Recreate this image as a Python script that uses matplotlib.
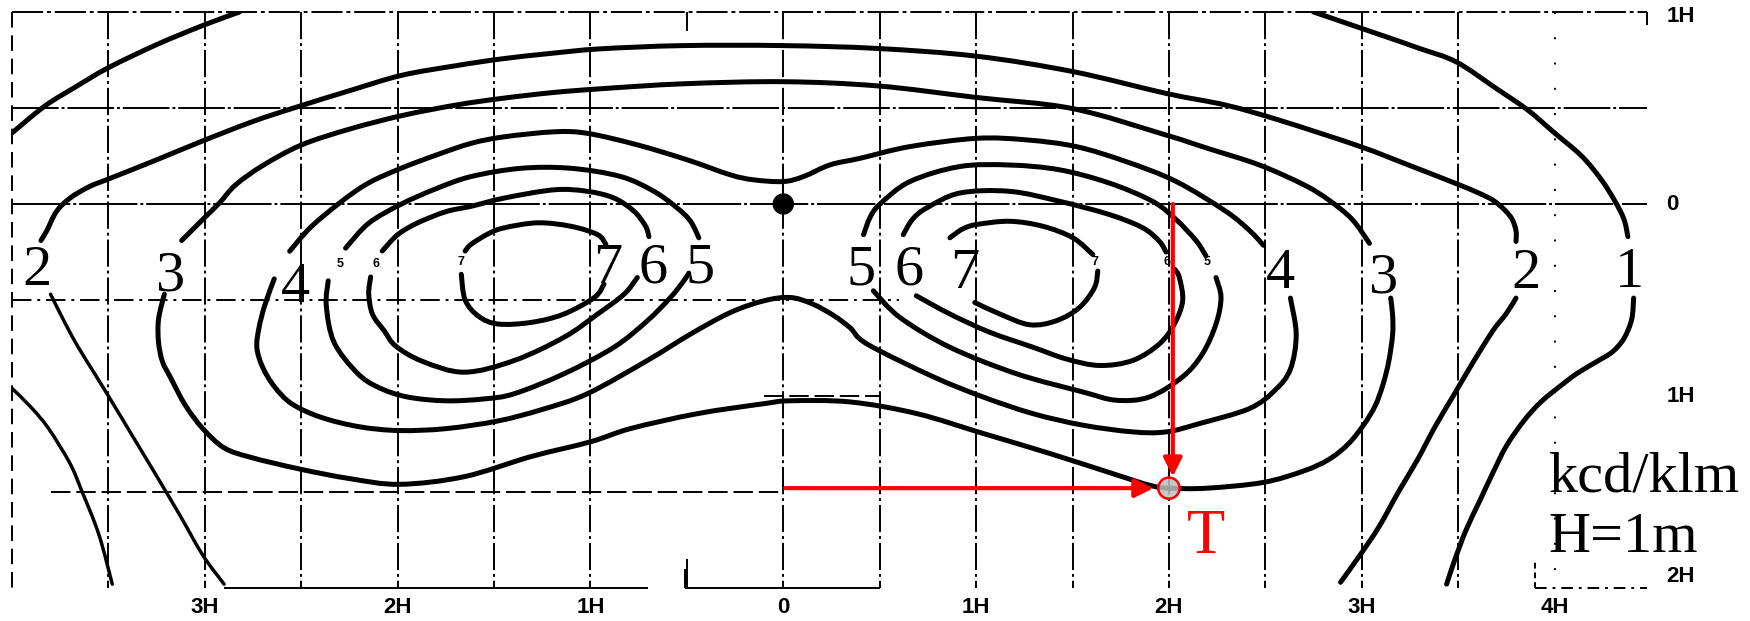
import matplotlib
matplotlib.use('Agg')
import matplotlib.pyplot as plt
from matplotlib.patches import Circle, PathPatch
from matplotlib.path import Path

# ---------------- data (H units: x along road, y across road, + behind lamp) ----------------
# contour 1 kcd/klm
C1_A = [(-4.0, 0.37), (-3.83, 0.51), (-3.67, 0.61), (-3.5, 0.71), (-3.25, 0.83), (-3.01, 0.93), (-2.82, 1.0)]
C1_B = [(-4.0, -0.96), (-3.9, -1.06), (-3.81, -1.17), (-3.70, -1.35), (-3.64, -1.49), (-3.55, -1.72), (-3.48, -1.98)]
C1_C = [(2.75, 1.0), (3.1, 0.88), (3.3, 0.81), (3.49, 0.74), (3.7, 0.60), (3.86, 0.49), (4.0, 0.37),
        (4.14, 0.25), (4.24, 0.13), (4.31, 0.02), (4.36, -0.08), (4.38, -0.17)]
C1_D = [(4.41, -0.49), (4.40, -0.60), (4.36, -0.70), (4.30, -0.77), (4.22, -0.82), (4.12, -0.88),
        (4.04, -0.94), (3.93, -1.03), (3.84, -1.13), (3.75, -1.26), (3.68, -1.40), (3.61, -1.55),
        (3.54, -1.70), (3.48, -1.86), (3.44, -1.98)]
# contour 2
C2_A = [(-3.85, -0.19), (-3.82, -0.14), (-3.77, -0.04), (-3.70, 0.03), (-3.6, 0.09), (-3.5, 0.13),
        (-3.25, 0.23), (-3.02, 0.325), (-2.75, 0.43), (-2.52, 0.506), (-2.25, 0.59), (-1.98, 0.67),
        (-1.7, 0.72), (-1.46, 0.756), (-1.2, 0.785), (-0.95, 0.808), (-0.52, 0.825), (0.0, 0.825),
        (0.49, 0.81), (1.0, 0.77), (1.5, 0.69), (1.99, 0.575), (2.295, 0.515), (2.571, 0.437),
        (2.99, 0.30), (3.25, 0.20), (3.48, 0.11), (3.60, 0.06), (3.68, 0.02), (3.74, -0.03),
        (3.78, -0.08), (3.80, -0.14), (3.80, -0.195)]
C2_B = [(-3.80, -0.47), (-3.73, -0.61), (-3.66, -0.74), (-3.58, -0.87), (-3.50, -1.0), (-3.38, -1.20),
        (-3.26, -1.40), (-3.13, -1.62), (-3.01, -1.83), (-2.90, -1.98)]
C2_C = [(3.80, -0.49), (3.75, -0.57), (3.68, -0.66), (3.58, -0.82), (3.48, -0.99), (3.38, -1.16),
        (3.29, -1.33), (3.19, -1.50), (3.09, -1.68), (2.99, -1.83), (2.89, -1.97)]
# contour 3
C3_A = [(-3.12, -0.19), (-3.0, -0.07), (-2.92, 0.01), (-2.84, 0.10), (-2.7, 0.20), (-2.50, 0.307),
        (-2.25, 0.39), (-1.98, 0.46), (-1.7, 0.515), (-1.46, 0.55), (-1.2, 0.58), (-0.95, 0.60),
        (-0.52, 0.626), (0.0, 0.637), (0.49, 0.615), (1.0, 0.555), (1.5, 0.497), (1.985, 0.359),
        (2.2, 0.29), (2.467, 0.204), (2.70, 0.10), (2.83, 0.02), (2.95, -0.08), (3.04, -0.205)]
C3_B = [(-3.21, -0.47), (-3.24, -0.60), (-3.24, -0.72), (-3.22, -0.82), (-3.18, -0.90), (-3.10, -1.05),
        (-3.01, -1.17), (-2.90, -1.27), (-2.76, -1.32), (-2.51, -1.38), (-2.25, -1.43), (-1.99, -1.46),
        (-1.654, -1.42), (-1.31, -1.316), (-0.998, -1.238), (-0.79, -1.169), (-0.446, -1.092),
        (-0.10, -1.04), (0.036, -1.025), (0.347, -1.031), (0.69, -1.091), (1.036, -1.195),
        (1.381, -1.299), (1.726, -1.41), (1.9, -1.465), (2.0, -1.48), (2.20, -1.48), (2.49, -1.45),
        (2.70, -1.39), (2.83, -1.33), (2.93, -1.25), (3.01, -1.15), (3.07, -1.05), (3.11, -0.94),
        (3.14, -0.82), (3.16, -0.68), (3.16, -0.58), (3.15, -0.49)]
# contour 4 (encloses both lobes)
C4_A = [(-2.56, -0.246), (-2.45, -0.12), (-2.29, 0.014), (-2.15, 0.11), (-1.98, 0.187), (-1.8, 0.255),
        (-1.619, 0.316), (-1.447, 0.35), (-1.188, 0.376), (-1.016, 0.368), (-0.757, 0.308),
        (-0.498, 0.23), (-0.275, 0.152), (-0.154, 0.126), (0.0, 0.117), (0.105, 0.143), (0.243, 0.204),
        (0.398, 0.238), (0.657, 0.299), (1.002, 0.342), (1.26, 0.334), (1.519, 0.299), (1.777, 0.221),
        (2.036, 0.118), (2.295, -0.038), (2.42, -0.14), (2.49, -0.215)]
C4_B = [(-2.64, -0.39), (-2.69, -0.53), (-2.72, -0.65), (-2.73, -0.75), (-2.70, -0.85), (-2.64, -0.95),
        (-2.55, -1.04), (-2.40, -1.11), (-2.2, -1.16), (-1.99, -1.18), (-1.75, -1.17), (-1.48, -1.13),
        (-1.25, -1.07), (-1.016, -0.988), (-0.705, -0.815), (-0.48, -0.677), (-0.274, -0.565),
        (-0.10, -0.504), (0.036, -0.487), (0.15, -0.52), (0.26, -0.58), (0.347, -0.645), (0.436, -0.73),
        (0.778, -0.90), (1.036, -1.005), (1.295, -1.092), (1.554, -1.152), (1.812, -1.187),
        (1.985, -1.187), (2.157, -1.144), (2.416, -1.066), (2.55, -0.97), (2.63, -0.86), (2.66, -0.68),
        (2.63, -0.49)]
# contour 5, left and right lobes
C5L_A = [(-2.27, -0.23), (-2.15, -0.10), (-1.98, 0.0), (-1.80, 0.08), (-1.619, 0.143), (-1.36, 0.186),
         (-1.102, 0.186), (-0.843, 0.143), (-0.671, 0.066), (-0.55, -0.021), (-0.481, -0.09), (-0.438, -0.176)]
C5L_B = [(-2.36, -0.40), (-2.37, -0.53), (-2.33, -0.72), (-2.21, -0.88), (-2.1, -0.955), (-1.95, -1.005),
         (-1.75, -1.025), (-1.55, -1.015), (-1.395, -0.988), (-1.137, -0.884), (-0.878, -0.746),
         (-0.705, -0.608), (-0.585, -0.487), (-0.516, -0.40), (-0.49, -0.36)]
C5R_A = [(0.416, -0.16), (0.45, -0.07), (0.502, 0.0), (0.657, 0.117), (0.915, 0.195), (1.174, 0.203),
         (1.433, 0.178), (1.691, 0.109), (1.915, 0.014), (2.036, -0.08), (2.14, -0.19), (2.192, -0.27)]
C5R_B = [(2.244, -0.383), (2.27, -0.487), (2.244, -0.625), (2.174, -0.78), (2.071, -0.90),
         (1.899, -1.005), (1.726, -1.022), (1.554, -0.979), (1.209, -0.884), (0.864, -0.746),
         (0.605, -0.591), (0.467, -0.452)]
# contour 6
C6L_A = [(-2.08, -0.245), (-2.0, -0.16), (-1.90, -0.10), (-1.75, -0.04), (-1.619, -0.012),
         (-1.447, 0.031), (-1.188, 0.074), (-1.016, 0.066), (-0.878, 0.031), (-0.774, -0.038),
         (-0.714, -0.116), (-0.697, -0.17)]
C6L_B = [(-2.14, -0.38), (-2.15, -0.47), (-2.13, -0.575), (-2.07, -0.66), (-2.01, -0.74), (-1.87, -0.82),
         (-1.654, -0.876), (-1.395, -0.815), (-1.137, -0.694), (-0.964, -0.574), (-0.826, -0.47),
         (-0.757, -0.383)]
C6R_A = [(0.622, -0.16), (0.67, -0.08), (0.743, -0.021), (0.915, 0.057), (1.174, 0.066), (1.433, 0.014),
         (1.691, -0.055), (1.864, -0.124), (1.95, -0.194), (1.985, -0.25)]
C6R_B = [(2.03, -0.34), (2.054, -0.383), (2.071, -0.504), (2.028, -0.625), (1.95, -0.729), (1.812, -0.815),
         (1.64, -0.841), (1.467, -0.807), (1.295, -0.746), (1.071, -0.668), (0.864, -0.573), (0.69, -0.478)]
# contour 7
C7L_A = [(-1.65, -0.245), (-1.619, -0.21), (-1.53, -0.155), (-1.447, -0.124), (-1.274, -0.098),
         (-1.102, -0.116), (-0.964, -0.159), (-0.92, -0.21)]
C7L_B = [(-1.67, -0.366), (-1.65, -0.50), (-1.58, -0.585), (-1.48, -0.625), (-1.31, -0.617),
         (-1.14, -0.574), (-0.98, -0.487), (-0.93, -0.418)]
C7R_A = [(0.864, -0.176), (0.93, -0.13), (1.002, -0.107), (1.174, -0.09), (1.346, -0.116),
         (1.502, -0.176), (1.605, -0.263)]
C7R_B = [(1.631, -0.349), (1.614, -0.435), (1.536, -0.539), (1.416, -0.608), (1.278, -0.629),
         (1.123, -0.573), (0.993, -0.513)]

THICK_PIECES = [C1_A, C1_C, C1_D, C2_A, C2_C, C3_A, C3_B, C4_A, C4_B,
                C5L_A, C5L_B, C5R_A, C5R_B, C6L_A, C6L_B, C6R_A, C6R_B,
                C7L_A, C7L_B, C7R_A, C7R_B]
THIN_PIECES = [C1_B, C2_B]

# big contour value labels
label_text = ['2', '3', '4', '7', '6', '5', '5', '6', '7', '4', '3', '2', '1']
label_x = [-3.87, -3.18, -2.53, -0.91, -0.675, -0.43, 0.405, 0.65, 0.94, 2.58, 3.11, 3.85, 4.39]
label_y = [-0.42, -0.45, -0.51, -0.41, -0.41, -0.41, -0.42, -0.42, -0.44, -0.44, -0.46, -0.44, -0.43]
# small original labels
small_text = ['5', '6', '7', '7', '6', '5']
small_x = [-2.30, -2.11, -1.67, 1.614, 1.99, 2.20]
small_y = [-0.31, -0.31, -0.30, -0.30, -0.30, -0.30]

# axis tick labels
xtick_pos = [-3, -2, -1, 0, 1, 2, 3, 4]
xtick_lab = ['3H', '2H', '1H', '0', '1H', '2H', '3H', '4H']
ytick_pos = [0.975, 0.0, -1.0, -1.94]
ytick_lab = ['1H', '0', '1H', '2H']

grid_x = [-3.5, -3.0, -2.5, -2.0, -1.5, -1.0, 0.0, 0.5, 1.0, 1.5, 2.0, 2.5, 3.0, 3.5]

lamp = (0.0, 0.0)
point_T = (2.0, -1.48)


def smooth_path(pts):
    """Catmull-Rom curve through the read points, drawn as cubic Bezier segments."""
    p = [pts[0]] + list(pts) + [pts[-1]]
    verts = [pts[0]]
    codes = [Path.MOVETO]
    for i in range(1, len(p) - 2):
        p0, p1, p2, p3 = p[i - 1], p[i], p[i + 1], p[i + 2]
        c1 = (p1[0] + (p2[0] - p0[0]) / 6.0, p1[1] + (p2[1] - p0[1]) / 6.0)
        c2 = (p2[0] - (p3[0] - p1[0]) / 6.0, p2[1] - (p3[1] - p1[1]) / 6.0)
        verts += [c1, c2, p2]
        codes += [Path.CURVE4] * 3
    return Path(verts, codes)


# ---------------- drawing ----------------
W, Hpx = 1750, 621
fig = plt.figure(figsize=(W / 100, Hpx / 100), dpi=100)
ax = fig.add_axes([12 / W, 33 / Hpx, 1639 / W, 576 / Hpx])
ax.set_xlim(-4.0, 4.5)
ax.set_ylim(-2.0, 1.0)
ax.axis('off')

gkw = dict(color='black', lw=1.4, solid_capstyle='butt', clip_on=False, zorder=1)
dd = (14, 2, 1.5, 2)
# vertical grid
for gx in grid_x:
    ax.plot([gx, gx], [1.0, -2.0], dashes=dd, **gkw)
ax.plot([4.0, 4.0], [1.0, -2.0], dashes=(1, 12), **gkw)
ax.plot([-0.5, -0.5], [1.0, 0.9], **gkw)
ax.plot([-0.5, -0.5], [-1.85, -2.0], **gkw)
ax.plot([-4.0, -4.0], [1.0, -2.0], dashes=(8, 4), **gkw)
ax.plot([4.48, 4.48], [1.0, 0.93], **gkw)
# horizontal grid
ax.plot([-4.0, 4.48], [1.0, 1.0], dashes=(16, 2, 2, 2), **gkw)
ax.plot([-4.0, 4.48], [0.5, 0.5], dashes=(24, 1.5, 1.5, 1.5), **gkw)
ax.plot([-4.0, 4.48], [0.0, 0.0], dashes=(30, 1.5, 1.5, 1.5), **gkw)
ax.plot([-4.0, 0.6], [-0.5, -0.5], dashes=(10, 3, 1.5, 3), **gkw)
ax.plot([-0.1, 0.5], [-1.0, -1.0], dashes=(10, 3), **gkw)
ax.plot([-3.8, 0.0], [-1.5, -1.5], dashes=(10, 3), **gkw)
ax.plot([-2.90, -0.70], [-2.0, -2.0], **gkw)
ax.plot([-0.51, 0.50], [-2.0, -2.0], **gkw)
ax.plot([-0.51, -0.51], [-2.0, -1.9], **gkw)
ax.plot([3.9, 4.48], [-2.0, -2.0], dashes=(6, 3, 1.5, 3), **gkw)
ax.plot([3.9, 3.9], [-2.0, -1.85], dashes=(3, 2), **gkw)

# contours
for piece in THICK_PIECES:
    ax.add_patch(PathPatch(smooth_path(piece), facecolor='none', edgecolor='black', lw=3.6,
                           capstyle='round', joinstyle='round', zorder=3))
for piece in THIN_PIECES:
    ax.add_patch(PathPatch(smooth_path(piece), facecolor='none', edgecolor='black', lw=2.5,
                           capstyle='round', joinstyle='round', zorder=3))

# lamp
ax.add_patch(Circle(lamp, 0.052, color='black', zorder=4))
ax.plot([lamp[0], lamp[0]], [lamp[1], 0.117], color='black', lw=1.5, zorder=4)

serif = ['Liberation Serif', 'DejaVu Serif']
sans = ['Liberation Sans', 'DejaVu Sans']
for t, x, y in zip(label_text, label_x, label_y):
    ax.text(x, y, t, fontsize=42, family=serif, ha='center', va='baseline', zorder=5)
for t, x, y in zip(small_text, small_x, small_y):
    ax.text(x, y, t, fontsize=9, family=sans, weight='bold', ha='center', va='center', zorder=5)

for p, t in zip(xtick_pos, xtick_lab):
    ax.text(p, -2.10, t, fontsize=16, weight='bold', family=sans, ha='center', va='center', clip_on=False)
for p, t in zip(ytick_pos, ytick_lab):
    ax.text(4.58, p, t, fontsize=16, weight='bold', family=sans, ha='left', va='center', clip_on=False)

# red construction
akw = dict(arrowstyle='-|>', color='red', lw=3, mutation_scale=28, shrinkA=0, shrinkB=0)
ax.annotate('', xy=(2.02, -1.42), xytext=(2.02, 0.0), arrowprops=akw, zorder=6)
ax.annotate('', xy=(1.92, -1.48), xytext=(0.01, -1.48), arrowprops=akw, zorder=6)
ax.add_patch(Circle(point_T, 0.055, facecolor=(0.75, 0.75, 0.75), alpha=0.85, edgecolor='red',
                    lw=1.6, zorder=7))
ax.add_patch(Circle(point_T, 0.055, facecolor='none', edgecolor='red', lw=1.6, zorder=8))
ax.text(2.19, -1.82, 'T', color='red', fontsize=45, family=serif, ha='center', va='baseline', zorder=6)

ax.text(3.97, -1.50, 'kcd/klm', fontsize=42, family=serif, ha='left', va='baseline', clip_on=False)
ax.text(3.97, -1.81, 'H=1m', fontsize=42, family=serif, ha='left', va='baseline', clip_on=False)

fig.savefig('out.png', dpi=100, facecolor='white')
